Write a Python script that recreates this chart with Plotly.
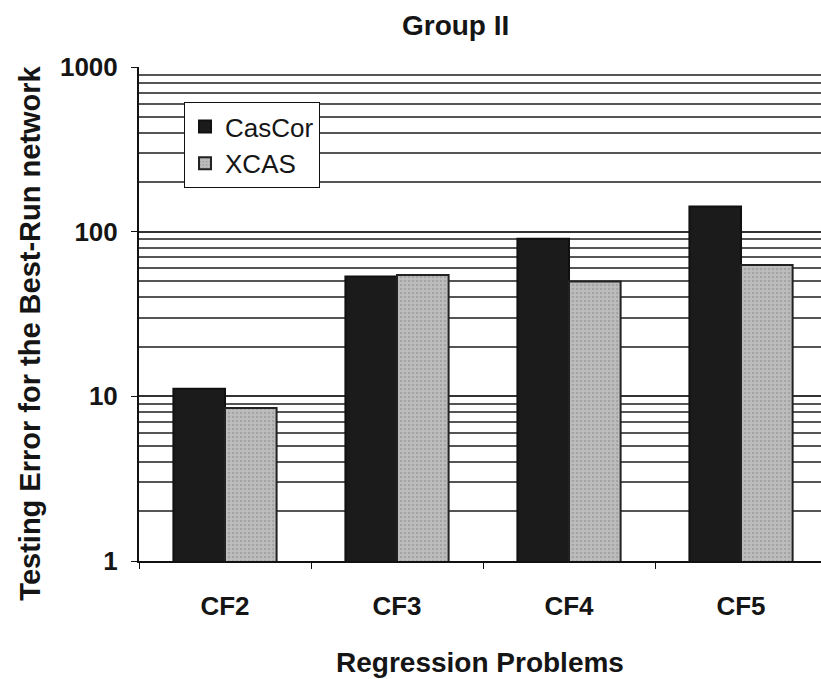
import plotly.graph_objects as go

categories = ["CF2", "CF3", "CF4", "CF5"]
cascor = [11.1, 53.5, 90.5, 142.0]
xcas = [8.5, 54.6, 49.8, 62.8]
series_names = ["CasCor", "XCAS"]
y_tick_vals = [1, 10, 100, 1000]
y_tick_text = ["1", "10", "100", "1000"]

FONT = "Liberation Sans, Arial, sans-serif"
INK = "#151515"

fig = go.Figure()
fig.add_trace(go.Bar(
    x=categories, y=cascor, name=series_names[0],
    marker=dict(color="#1b1b1b", line=dict(color="#111111", width=2)),
))
fig.add_trace(go.Bar(
    x=categories, y=xcas, name=series_names[1],
    marker=dict(color="#b3b3b3", line=dict(color="#222222", width=2),
                pattern=dict(shape=".", fgcolor="#8a8a8a", bgcolor="#bdbdbd", size=4, solidity=0.3)),
))

fig.update_layout(
    width=821, height=679,
    margin=dict(l=139, r=0, t=67, b=118),
    paper_bgcolor="white", plot_bgcolor="white",
    barmode="group", bargap=0.4, bargroupgap=0,
    font=dict(family=FONT, color=INK, size=26),
    title=dict(text="<b>Group II</b>", x=0.555, xanchor="center", y=0.963, yanchor="middle",
               font=dict(family=FONT, size=28, color=INK)),
    legend=dict(x=0.066, y=0.929, xanchor="left", yanchor="top",
                bgcolor="white", bordercolor="#111111", borderwidth=1,
                font=dict(family=FONT, size=26, color=INK),
                itemwidth=30),
    showlegend=True,
    annotations=[dict(
        text="<b>Testing Error for the Best-Run network</b>",
        xref="paper", yref="paper", x=-0.16, y=0.462,
        xanchor="center", yanchor="middle", textangle=-90, showarrow=False,
        font=dict(family=FONT, size=29, color=INK),
    )],
)

fig.update_xaxes(
    range=[-0.5, 3.465],
    showline=True, linecolor="#111111", linewidth=2,
    tickson="boundaries", ticks="outside", ticklen=6, tickcolor="#111111",
    tickfont=dict(family=FONT, size=26, color=INK, weight="bold"),
    ticklabelstandoff=21,
    showgrid=False,
    title=dict(text="<b>Regression Problems</b>", standoff=32,
               font=dict(family=FONT, size=28, color=INK)),
)

fig.update_yaxes(
    type="log", range=[0, 3],
    tickvals=y_tick_vals, ticktext=y_tick_text,
    showline=True, linecolor="#111111", linewidth=2,
    ticks="outside", ticklen=6, tickcolor="#111111",
    tickfont=dict(family=FONT, size=26, color=INK, weight="bold"),
    ticklabelstandoff=8,
    showgrid=True, gridcolor="#333333", gridwidth=2,
    minor=dict(dtick="D1", showgrid=True, gridcolor="#555555", gridwidth=1.5, ticks=""),
    zeroline=False,
)

fig.write_html("out.html")
